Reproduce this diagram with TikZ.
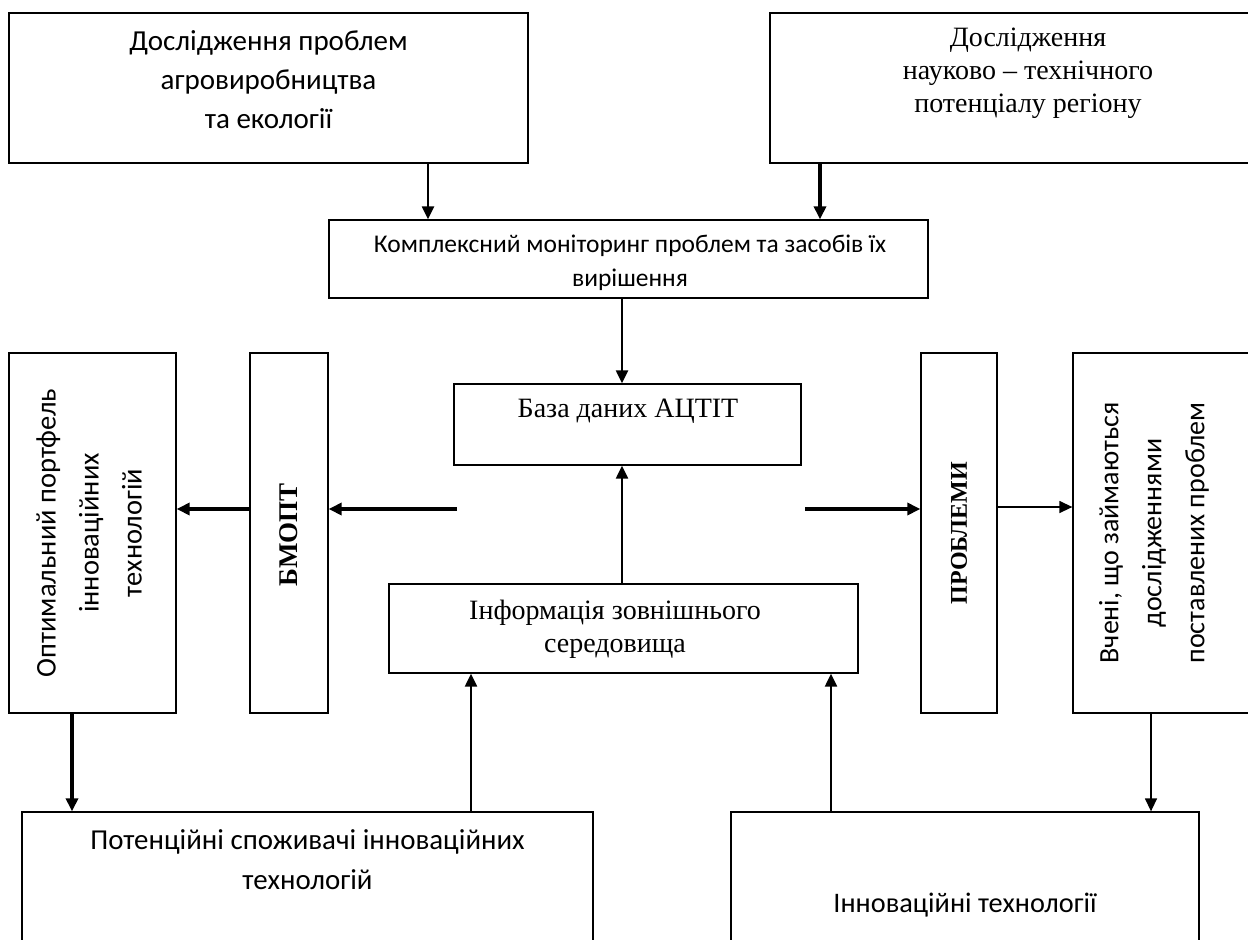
\documentclass[tikz,border=0pt]{standalone}
\usepackage{fontspec}
\setmainfont{Liberation Serif}
\newfontfamily\calibri{Carlito}
\usetikzlibrary{positioning, arrows.meta, calc}

\tikzset{
  box/.style={draw, line width=1.3pt, inner sep=0pt},
  sanstxt/.style={font=\calibri\fontsize{29}{39}\selectfont, align=center, inner sep=0pt},
  smalltxt/.style={font=\calibri\fontsize{25.5}{34}\selectfont, align=center, inner sep=0pt},
  seriftxt/.style={font=\fontsize{28}{33}\selectfont, align=center, inner sep=0pt},
  boldtxt/.style={font=\bfseries\fontsize{27}{30}\selectfont, rotate=90, inner sep=0pt},
  vtxt/.style={font=\calibri\fontsize{28.5}{43}\selectfont, align=center, rotate=90, inner sep=0pt},
  tip/.style={-{Triangle[length=13pt,width=12pt]}},
  thinlink/.style={tip, line width=1.4pt},
  link/.style={tip, line width=2.2pt},
  boldlink/.style={tip, line width=3.6pt}
}

\begin{document}
\begin{tikzpicture}[x=1pt, y=-1pt]
  \useasboundingbox (0,0) rectangle (1248,940);
  \clip (0,0) rectangle (1248,940);

  % top boxes
  \node[box, minimum width=519, minimum height=150] (agro) at (268.5,88) {};
  \node[sanstxt] (agro-t) at (268.5,80) {Дослідження проблем\\агровиробництва\\та екології};
  \node[box, minimum width=518, minimum height=150] (region) at (1029,88) {};
  \node[seriftxt] (region-t) at (1028,73) {Дослідження\\науково -- технічного\\потенціалу регіону};

  \node[box, minimum width=599, minimum height=78] (monitor) at (628.5,259) {};
  \node[smalltxt] (monitor-t) at (630,263) {Комплексний моніторинг проблем та засобів їх\\вирішення};

  % centre
  \node[box, minimum width=347, minimum height=81] (base) at (627.5,424.5) {};
  \node[seriftxt] (base-t) at (628,411) {База даних АЦТІТ};
  \node[box, minimum width=469, minimum height=89] (info) at (623.5,628.5) {};
  \node[seriftxt] (info-t) at (615,629) {Інформація зовнішнього\\середовища};

  % side columns
  \node[box, minimum width=167, minimum height=360] (optimal) at (92.5,533) {};
  \node[vtxt] (optimal-t) at (89,533) {Оптимальний портфель\\інноваційних\\технологій};
  \node[box, minimum width=78, minimum height=360] (bmopt) at (289,533) {};
  \node[boldtxt] (bmopt-t) at (289,535) {БМОПТ};
  \node[box, minimum width=76, minimum height=360] (problems) at (959,533) {};
  \node[boldtxt, font=\bfseries\fontsize{24}{30}\selectfont] (problems-t) at (959,533) {ПРОБЛЕМИ};
  \node[box, minimum width=190, minimum height=360] (scientists) at (1168,533) {};
  \node[vtxt, font=\calibri\fontsize{28}{43}\selectfont] (scientists-t) at (1154,533) {Вчені, що займаються\\дослідженнями\\поставлених проблем};

  % bottom boxes
  \node[box, minimum width=571, minimum height=160] (consumers) at (307.5,892) {};
  \node[sanstxt, font=\calibri\fontsize{28.9}{40}\selectfont] (consumers-t) at (307.5,860) {Потенційні споживачі інноваційних\\технологій};
  \node[box, minimum width=468, minimum height=160] (innov) at (965,892) {};
  \node[sanstxt, font=\calibri\fontsize{28.3}{40}\selectfont] (innov-t) at (965,905) {Інноваційні технології};

  \coordinate (lfree) at (457,509);
  \coordinate (rfree) at (805,509);

  % connectors
  \draw[link] (agro.south -| 428,0) -- (monitor.north -| 428,0);
  \draw[boldlink] (region.south -| 820,0) -- (monitor.north -| 820,0);
  \draw[link] (monitor.south -| 622,0) -- (base.north -| 622,0);
  \draw[link] (info.north -| 622,0) -- (base.south -| 622,0);
  \draw[boldlink] (lfree) -- (lfree -| bmopt.east);
  \draw[boldlink] (bmopt.west |- 0,509) -- (optimal.east |- 0,509);
  \draw[boldlink] (rfree) -- (rfree -| problems.west);
  \draw[thinlink] (problems.east |- 0,507) -- (scientists.west |- 0,507);
  \draw[boldlink] (optimal.south -| 72,0) -- (consumers.north -| 72,0);
  \draw[link] (consumers.north -| 471,0) -- (info.south -| 471,0);
  \draw[link] (innov.north -| 831,0) -- (info.south -| 831,0);
  \draw[thinlink] (scientists.south -| 1151,0) -- (innov.north -| 1151,0);
\end{tikzpicture}
\end{document}
